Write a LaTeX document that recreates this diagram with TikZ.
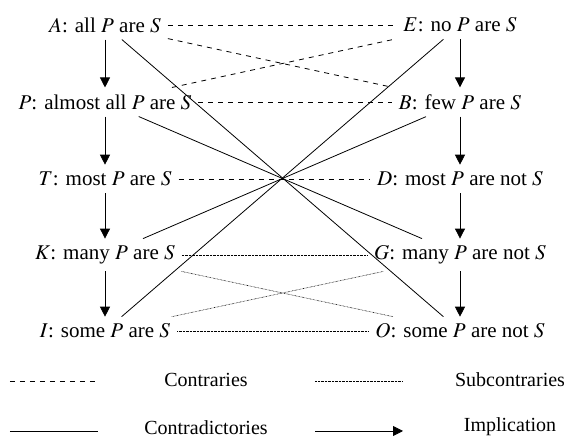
\documentclass[tikz,border=0pt]{standalone}
\usepackage{mathptmx}
\usepackage{fontspec}
\setmainfont{Liberation Serif}
\usetikzlibrary{arrows.meta}

\begin{document}
\begin{tikzpicture}[x=0.5pt,y=-0.5pt,
	every node/.style={font=\fontsize{10.5}{12.6}\selectfont},
	contrary/.style={dash pattern=on 2.5pt off 2.5pt},
	subcontrary/.style={line width=0.3pt,dash pattern=on 0.3pt off 0.4pt},
	implies/.style={-{Triangle[length=5pt,width=5pt]}},
	legend/.style={font=\normalsize,anchor=base}]
	\useasboundingbox (0,0) rectangle (564,438);

	\node (A) at (105,25) {$A$: all $P$ are $S$};
	\node (P) at (105,102) {$P$: almost all $P$ are $S$};
	\node (T) at (105,179) {$T$: most $P$ are $S$};
	\node (K) at (105,255) {$K$: many $P$ are $S$};
	\node (I) at (105,331) {$I$: some $P$ are $S$};

	\node (E) at (460,25) {$E$: no $P$ are $S$};
	\node (B) at (460,102) {$B$: few $P$ are $S$};
	\node (D) at (460,179) {$D$: most $P$ are not $S$};
	\node (G) at (460,255) {$G$: many $P$ are not $S$};
	\node (O) at (460,331) {$O$: some $P$ are not $S$};

	\draw [implies] (A) -- (P);
	\draw [implies] (P) -- (T);
	\draw [implies] (T) -- (K);
	\draw [implies] (K) -- (I);
	\draw [implies] (E) -- (B);
	\draw [implies] (B) -- (D);
	\draw [implies] (D) -- (G);
	\draw [implies] (G) -- (O);

	\draw [contrary] (A) -- (E);
	\draw [contrary] (P) -- (B);
	\draw [contrary] (T) -- (D);
	\draw [contrary] (A) -- (B);
	\draw [contrary] (P) -- (E);

	\draw (A) -- (O);
	\draw (E) -- (I);
	\draw (P) -- (G);
	\draw (B) -- (K);

	\draw [subcontrary] (K) -- (G);
	\draw [subcontrary] (I) -- (O);
	\draw [subcontrary] (K) -- (O);
	\draw [subcontrary] (I) -- (G);

	\draw [contrary] (10,381) -- (98,381);
	\node [legend] (contr) at (206,387) {Contraries};
	\draw [subcontrary] (315,381) -- (403,381);
	\node [legend] (subcontr) at (510,387) {Subcontraries};
	\draw (10,431) -- (98,431);
	\node [legend] (contrad) at (206,435) {Contradictories};
	\draw [implies] (315,431) -- (403,431);
	\node [legend] (impl) at (510,432) {Implication};
\end{tikzpicture}
\end{document}
